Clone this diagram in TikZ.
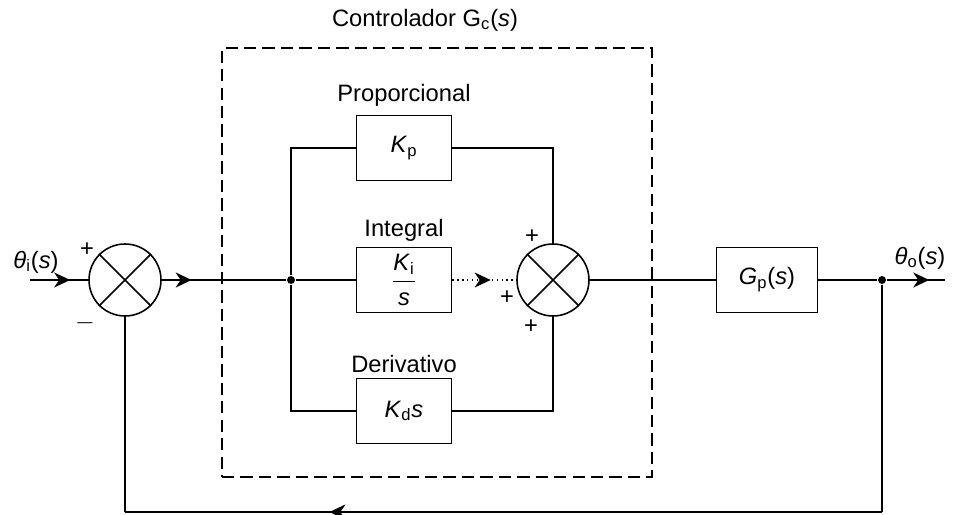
\documentclass[tikz,border=0pt]{standalone}
\usepackage{fontspec}
\setmainfont{Liberation Sans}
\usetikzlibrary{positioning,arrows.meta,decorations.markings}
\newcommand{\var}[1]{\textit{#1}}

\begin{document}
\begin{tikzpicture}[
  x=0.2mm, y=-0.2mm,
  line width=0.8pt,
  every node/.style={font=\fontsize{13.5}{16}\selectfont},
  block/.style={draw,line width=0.9pt,minimum width=19mm,minimum height=13mm,inner sep=0pt},
  sumj/.style={draw,circle,line width=0.9pt,minimum size=14.4mm,inner sep=0pt},
  point/.style={circle,fill=black,inner sep=1.6pt},
  marrow/.style={postaction={decorate},decoration={markings,
    mark=at position #1 with {\arrow{Stealth[length=3.2mm,width=3mm,inset=1mm]}}}}
]
\useasboundingbox (0,0) rectangle (954,515);

% 制御器の枠
\node[draw,dashed,dash pattern=on 7pt off 3.5pt,line width=0.8pt,
  minimum width=86mm,minimum height=85.8mm] (ctrl) at (437,262.5) {};
\node (title) at (425,20) {Controlador G\textsubscript{c}(\var{s})};

% 加え合わせ点とブロック
\node[sumj] (s1) at (125,280) {};
\node[sumj] (s2) at (553,280) {};
\foreach \s in {s1,s2}{
  \draw[line width=0.9pt] (\s.north west) -- (\s.south east);
  \draw[line width=0.9pt] (\s.north east) -- (\s.south west);
}
\node[block,label={[yshift=1pt]above:Proporcional}] (kp) at (404,148) {\var{K}\textsubscript{p}};
\node[block,label={[yshift=-1pt]above:Integral}] (ki) at (404,280)
  {$\displaystyle\frac{\mbox{\var{K}\textsubscript{i}}}{\mbox{\var{s}}}$};
\node[block,label={[yshift=-1pt]above:Derivativo}] (kd) at (404,411) {\var{K}\textsubscript{d}\var{s}};
\node[block,minimum width=20.2mm] (gp) at (767,280) {\var{G}\textsubscript{p}(\var{s})};

% 分岐点と端点
\node[point] (br) at (291,280) {};
\node[point] (o1) at (882,280) {};
\coordinate (in) at (30,280);
\coordinate (out) at (945,280);
\coordinate (fbr) at (882,512);
\coordinate (fbl) at (125,512);

% 信号線
\draw[marrow=0.69] (in) -- (s1.west);
\draw[marrow=0.24] (s1.east) -- (br);
\draw (br) |- (kp.west);
\draw (br) -- (ki.west);
\draw (br) |- (kd.west);
\draw (kp.east) -| (s2.north);
\draw (kd.east) -| (s2.south);
\draw[dotted,marrow=0.6] (ki.east) -- (s2.west);
\draw (s2.east) -- (gp.west);
\draw (gp.east) -- (o1);
\draw[marrow=0.73] (o1) -- (out);

% フィードバック
\draw (o1) -- (fbr);
\draw[marrow=0.73] (fbr) -- (fbl);
\draw (fbl) -- (s1.south);

% 符号とラベル
\node (p1) at (87,250) {+};
\node (m1) at (85,323) {$-$};
\node (p2) at (532,237) {+};
\node (p3) at (507,298) {+};
\node (p4) at (531,327) {+};
\node (lin) at (36,262) {\var{θ}\textsubscript{i}(\var{s})};
\node (lout) at (920,258) {\var{θ}\textsubscript{o}(\var{s})};
\end{tikzpicture}
\end{document}
